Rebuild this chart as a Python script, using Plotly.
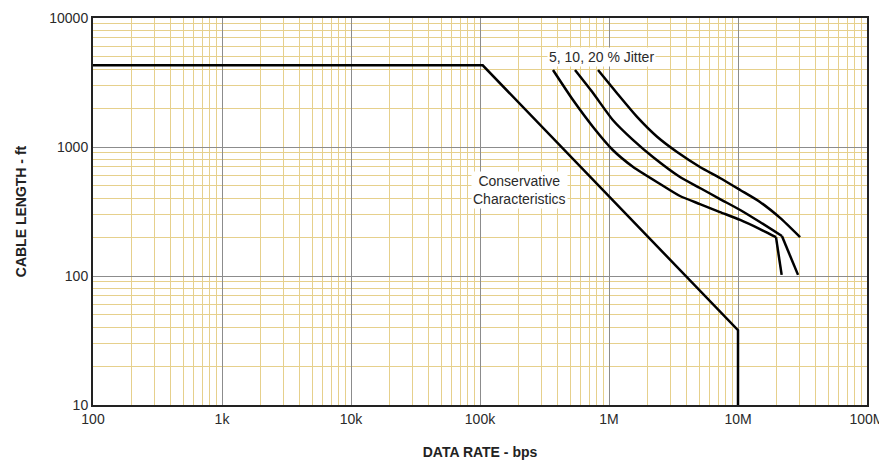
import plotly.graph_objects as go

# Conservative characteristics
cons_x = [100, 105e3, 10e6, 10e6]
cons_y = [4300, 4300, 38, 10]

# Jitter curves (5 %, 10 %, 20 %)
j5_x = [368e3, 526e3, 752e3, 1.07e6, 1.54e6, 2.49e6, 3.55e6, 5.07e6, 7.25e6, 10.4e6, 14.8e6, 19.7e6, 21.8e6]
j5_y = [3950, 2310, 1430, 948, 700, 517, 417, 361, 313, 272, 231, 200, 102]
j10_x = [545e3, 752e3, 1.07e6, 1.54e6, 2.19e6, 3.55e6, 5.07e6, 7.25e6, 10.4e6, 14.8e6, 21.9e6, 29.2e6]
j10_y = [3950, 2620, 1620, 1130, 836, 585, 481, 395, 325, 262, 204, 102]
j20_x = [822e3, 1.15e6, 1.65e6, 2.36e6, 3.37e6, 5.07e6, 7.25e6, 10.4e6, 14.8e6, 21.2e6, 30.3e6]
j20_y = [3950, 2620, 1710, 1200, 914, 700, 575, 464, 375, 282, 200]

x_tickvals = [100, 1e3, 1e4, 1e5, 1e6, 1e7, 1e8]
x_ticktext = ["100", "1k", "10k", "100k", "1M", "10M", "100M"]
y_tickvals = [10, 100, 1000, 10000]
y_ticktext = ["10", "100", "1000", "10000"]

fig = go.Figure()
line = dict(color="black", width=2.5)
fig.add_trace(go.Scatter(x=cons_x, y=cons_y, mode="lines", line=line, showlegend=False, hoverinfo="skip"))
# smooth parts
for xs, ys in [(j5_x[:-1], j5_y[:-1]), (j10_x[:-1], j10_y[:-1]), (j20_x, j20_y)]:
    fig.add_trace(go.Scatter(x=xs, y=ys, mode="lines", line=dict(color="black", width=2.5, shape="spline", smoothing=0.6),
                             showlegend=False, hoverinfo="skip"))
# sharp drop-offs
for xs, ys in [(j5_x[-2:], j5_y[-2:]), (j10_x[-2:], j10_y[-2:])]:
    fig.add_trace(go.Scatter(x=xs, y=ys, mode="lines", line=line, showlegend=False, hoverinfo="skip"))

fam = "Liberation Sans, Arial, sans-serif"
font = dict(family=fam, size=14, color="#2a2a2a")
axis_common = dict(
    type="log", showline=True, linecolor="#222", linewidth=2, mirror=True,
    showgrid=True, gridcolor="#8c8c8c", gridwidth=1, ticks="", zeroline=False,
    minor=dict(showgrid=True, gridcolor="#e6d08c", gridwidth=1, dtick="D1", ticks=""),
    tickfont=font, automargin=False,
)
fig.update_xaxes(range=[2, 8], tickvals=x_tickvals, ticktext=x_ticktext,
                 title=dict(text="<b>DATA RATE - bps</b>", font=dict(family=fam, size=14, color="#222"), standoff=21),
                 **axis_common)
fig.update_yaxes(range=[1, 4], tickvals=y_tickvals, ticktext=y_ticktext,
                 title=dict(text="<b>CABLE LENGTH - ft</b>", font=dict(family=fam, size=14, color="#222"), standoff=19),
                 **axis_common)

fig.add_annotation(x=5.938, y=3.698, xref="x", yref="y", text="5, 10, 20 % Jitter",
                   showarrow=False, bgcolor="white", font=font, borderpad=1)
fig.add_annotation(x=5.31, y=2.667, xref="x", yref="y", text="Conservative<br>Characteristics",
                   showarrow=False, bgcolor="white", font=font, borderpad=1)

fig.update_layout(
    width=879, height=454,
    margin=dict(l=85, r=20, t=10, b=57),
    plot_bgcolor="white", paper_bgcolor="white",
)
fig.write_html("out.html")
